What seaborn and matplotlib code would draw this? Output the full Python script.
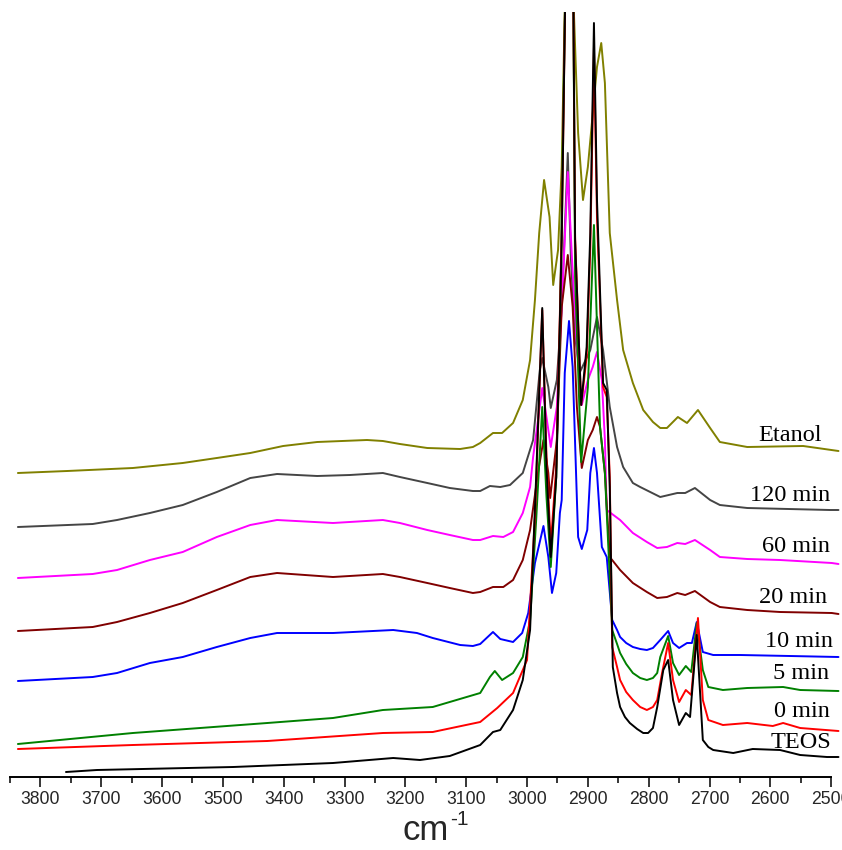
import numpy as np
import pandas as pd
import seaborn as sns
import matplotlib
matplotlib.use("Agg")
import matplotlib.pyplot as plt

# ---- FTIR spectra (wavenumber in cm-1, absorbance in a.u., offset for stacking) ----
teos_wn = [3758, 3707, 3483, 3319, 3220, 3176, 3127, 3077, 3056, 3044, 3023, 3007, 2995, 2985,
           2975, 2968, 2961, 2952, 2943, 2937, 2931, 2924, 2921, 2911, 2902, 2896, 2890, 2885,
           2875, 2869, 2864, 2859, 2852, 2847, 2839, 2831, 2819, 2809, 2801, 2793, 2786, 2776,
           2768, 2760, 2750, 2739, 2732, 2721, 2711, 2702, 2694, 2661, 2629, 2584, 2551, 2507,
           2488]
teos_ab = [0.05, 0.07, 0.10, 0.14, 0.19, 0.17, 0.21, 0.32, 0.45, 0.47, 0.67, 0.97, 1.47, 3.00,
           4.69, 3.10, 2.20, 3.00, 5.37, 7.90, 9.20, 7.90, 5.37, 3.72, 4.30, 5.44, 7.54, 5.77,
           3.94, 3.87, 2.90, 1.10, 0.84, 0.70, 0.60, 0.54, 0.48, 0.44, 0.44, 0.49, 0.70, 1.07,
           1.17, 0.77, 0.52, 0.64, 0.60, 1.42, 0.37, 0.30, 0.27, 0.24, 0.28, 0.27, 0.22, 0.20,
           0.20]

min0_wn = [3837, 3648, 3427, 3237, 3155, 3077, 3049, 3023, 3000, 2987, 2975, 2968, 2961, 2952,
           2943, 2937, 2931, 2924, 2921, 2911, 2902, 2896, 2890, 2885, 2875, 2869, 2864, 2860,
           2852, 2847, 2837, 2826, 2814, 2803, 2793, 2786, 2778, 2768, 2760, 2750, 2739, 2730,
           2719, 2711, 2702, 2678, 2638, 2596, 2579, 2551, 2488]
min0_ab = [0.28, 0.32, 0.36, 0.44, 0.45, 0.55, 0.69, 0.84, 1.17, 2.60, 4.67, 3.20, 2.32, 3.10,
           5.40, 7.90, 9.00, 7.90, 5.40, 3.72, 4.20, 5.30, 7.29, 5.60, 3.90, 3.80, 3.00, 1.30,
           1.10, 0.97, 0.85, 0.77, 0.70, 0.67, 0.70, 0.77, 1.04, 1.34, 0.97, 0.75, 0.87, 0.82,
           1.59, 0.77, 0.57, 0.52, 0.54, 0.51, 0.54, 0.49, 0.46]

min5_wn = [3837, 3648, 3427, 3319, 3237, 3155, 3077, 3061, 3053, 3041, 3023, 3007, 2995, 2985,
           2975, 2968, 2961, 2952, 2946, 2937, 2931, 2924, 2921, 2911, 2900, 2890, 2880, 2872,
           2860, 2852, 2847, 2837, 2826, 2814, 2803, 2793, 2786, 2781, 2768, 2760, 2750, 2739,
           2730, 2721, 2711, 2702, 2678, 2638, 2579, 2551, 2488]
min5_ab = [0.33, 0.44, 0.54, 0.59, 0.67, 0.70, 0.84, 1.00, 1.06, 0.97, 1.04, 1.20, 1.57, 2.57,
           3.70, 2.80, 2.10, 3.00, 4.50, 7.90, 9.00, 7.90, 5.00, 3.15, 3.90, 5.52, 3.50, 3.04,
           1.47, 1.33, 1.24, 1.13, 1.04, 0.99, 0.97, 0.99, 1.04, 1.20, 1.41, 1.14, 1.02, 1.11,
           1.05, 1.54, 1.07, 0.90, 0.87, 0.89, 0.90, 0.87, 0.86]

min10_wn = [3837, 3714, 3674, 3620, 3566, 3510, 3455, 3411, 3319, 3220, 3181, 3155, 3110, 3089,
            3077, 3056, 3044, 3023, 3008, 2998, 2987, 2973, 2965, 2959, 2952, 2946, 2943, 2938,
            2931, 2925, 2918, 2916, 2910, 2901, 2896, 2890, 2885, 2877, 2869, 2860, 2852, 2847,
            2837, 2826, 2814, 2803, 2793, 2781, 2768, 2760, 2750, 2737, 2729, 2721, 2711, 2694,
            2650, 2568, 2488]
min10_ab = [0.96, 1.00, 1.04, 1.14, 1.20, 1.30, 1.39, 1.44, 1.44, 1.47, 1.44, 1.39, 1.32, 1.31,
            1.33, 1.45, 1.38, 1.35, 1.44, 1.64, 2.14, 2.51, 2.20, 1.84, 2.04, 2.64, 2.77, 4.04,
            4.56, 4.10, 2.77, 2.40, 2.28, 2.47, 3.04, 3.29, 3.04, 2.30, 2.20, 1.57, 1.47, 1.40,
            1.34, 1.30, 1.28, 1.27, 1.29, 1.37, 1.46, 1.34, 1.29, 1.34, 1.34, 1.55, 1.25, 1.22,
            1.22, 1.21, 1.20]

min20_wn = [3837, 3714, 3674, 3620, 3566, 3510, 3455, 3411, 3319, 3237, 3209, 3164, 3127, 3089,
            3077, 3056, 3039, 3023, 3007, 2995, 2982, 2973, 2965, 2962, 2951, 2943, 2933, 2925,
            2918, 2910, 2900, 2892, 2885, 2880, 2872, 2864, 2847, 2826, 2803, 2786, 2770, 2753,
            2740, 2724, 2699, 2683, 2638, 2584, 2499, 2488]
min20_ab = [1.46, 1.50, 1.55, 1.64, 1.74, 1.87, 2.00, 2.04, 2.00, 2.03, 2.00, 1.94, 1.89, 1.84,
            1.85, 1.90, 1.90, 1.97, 2.17, 2.47, 3.04, 3.37, 3.04, 2.79, 3.37, 4.70, 5.22, 4.70,
            3.70, 3.09, 3.37, 3.47, 3.60, 3.50, 3.04, 2.20, 2.07, 1.94, 1.85, 1.79, 1.80, 1.84,
            1.82, 1.86, 1.75, 1.70, 1.67, 1.65, 1.64, 1.63]

min60_wn = [3837, 3714, 3674, 3620, 3566, 3510, 3455, 3411, 3319, 3237, 3209, 3164, 3127, 3089,
            3077, 3056, 3039, 3023, 3007, 2995, 2990, 2975, 2965, 2961, 2951, 2943, 2933, 2926,
            2918, 2910, 2900, 2892, 2885, 2877, 2872, 2869, 2847, 2826, 2803, 2786, 2770, 2753,
            2740, 2724, 2699, 2683, 2638, 2584, 2499, 2488]
min60_ab = [1.99, 2.03, 2.07, 2.17, 2.25, 2.40, 2.52, 2.57, 2.54, 2.57, 2.54, 2.47, 2.42, 2.37,
            2.37, 2.41, 2.40, 2.45, 2.64, 2.90, 3.20, 3.89, 3.47, 3.30, 3.70, 4.70, 6.05, 5.17,
            4.30, 3.72, 3.97, 4.10, 4.25, 3.97, 3.37, 2.67, 2.57, 2.44, 2.35, 2.29, 2.30, 2.34,
            2.33, 2.37, 2.27, 2.20, 2.18, 2.17, 2.14, 2.13]

min120_wn = [3837, 3714, 3674, 3620, 3566, 3510, 3455, 3411, 3345, 3291, 3237, 3209, 3164, 3127,
             3089, 3077, 3061, 3044, 3028, 3007, 2990, 2979, 2975, 2965, 2961, 2951, 2943, 2936,
             2933, 2928, 2921, 2913, 2896, 2885, 2875, 2864, 2852, 2842, 2826, 2814, 2781, 2753,
             2740, 2724, 2699, 2683, 2638, 2502, 2488]
min120_ab = [2.50, 2.53, 2.57, 2.64, 2.72, 2.85, 2.99, 3.03, 3.01, 3.02, 3.04, 3.00, 2.94, 2.89,
             2.86, 2.86, 2.91, 2.90, 2.92, 3.04, 3.37, 4.07, 4.19, 3.90, 3.69, 3.97, 4.70, 5.77,
             6.24, 5.20, 4.40, 4.05, 4.27, 4.60, 4.27, 3.70, 3.30, 3.10, 2.94, 2.90, 2.80, 2.84,
             2.84, 2.89, 2.77, 2.72, 2.69, 2.67, 2.67]

etanol_wn = [3837, 3756, 3648, 3566, 3510, 3455, 3401, 3345, 3263, 3237, 3209, 3164, 3110, 3089,
             3077, 3056, 3041, 3023, 3007, 2995, 2987, 2980, 2972, 2963, 2957, 2949, 2943, 2937,
             2931, 2925, 2916, 2908, 2900, 2885, 2878, 2872, 2864, 2852, 2842, 2826, 2809, 2793,
             2781, 2770, 2752, 2737, 2719, 2699, 2683, 2638, 2546, 2488]
etanol_ab = [3.04, 3.06, 3.09, 3.14, 3.19, 3.24, 3.31, 3.35, 3.37, 3.36, 3.33, 3.29, 3.28, 3.30,
             3.34, 3.44, 3.44, 3.54, 3.77, 4.17, 4.77, 5.44, 5.97, 5.60, 4.92, 5.27, 6.10, 8.00,
             9.00, 8.00, 6.44, 5.77, 6.10, 7.10, 7.34, 6.94, 5.44, 4.77, 4.27, 3.94, 3.67, 3.55,
             3.49, 3.49, 3.60, 3.54, 3.67, 3.49, 3.35, 3.30, 3.31, 3.26]

series_names = ["Etanol", "120 min", "60 min", "20 min", "10 min", "5 min", "0 min", "TEOS"]
series_wn = [etanol_wn, min120_wn, min60_wn, min20_wn, min10_wn, min5_wn, min0_wn, teos_wn]
series_ab = [etanol_ab, min120_ab, min60_ab, min20_ab, min10_ab, min5_ab, min0_ab, teos_ab]
series_colors = ["#808000", "#454545", "#ff00ff", "#800000", "#0000ff", "#008000", "#ff0000", "#000000"]

# label anchors (right end x in cm-1, baseline in a.u.)
label_x = [2516, 2502, 2502, 2507, 2497, 2504, 2502, 2499]
label_y = [3.36, 2.76, 2.25, 1.74, 1.30, 0.98, 0.60, 0.29]

x_ticks = list(range(3800, 2400, -100))
x_minor = list(range(3850, 2500, -100))

sns.set_style("white")
plt.rcParams["font.family"] = ["Liberation Sans", "DejaVu Sans"]

fig = plt.figure(figsize=(8.42, 8.50), dpi=100)
ax = fig.add_axes([10 / 842, 73 / 850, 830.3 / 842, 765 / 850])

frames = []
for name, wn, ab in zip(series_names, series_wn, series_ab):
    frames.append(pd.DataFrame({"wn": wn, "ab": ab, "sample": name}))
data = pd.concat(frames, ignore_index=True)

for name, color in zip(series_names, series_colors):
    sub = data[data["sample"] == name]
    sns.lineplot(data=sub, x="wn", y="ab", color=color, lw=1.4, ax=ax,
                 estimator=None, sort=True, legend=False)

for name, lx, ly in zip(series_names, label_x, label_y):
    ax.text(lx, ly, name, ha="right", va="baseline", fontsize=17.5,
            family="Liberation Serif", color="black")

ax.set_xlim(3850, 2485)
ax.set_ylim(0, 7.65)

for side in ["left", "top", "right"]:
    ax.spines[side].set_visible(False)
ax.spines["bottom"].set_bounds(2500, 3850)
ax.spines["bottom"].set_linewidth(1.4)
ax.spines["bottom"].set_color("black")

ax.set_yticks([])
ax.set_xticks(x_ticks)
ax.set_xticklabels([str(t) for t in x_ticks])
ax.set_xticks(x_minor, minor=True)
ax.tick_params(axis="x", which="major", direction="out", length=7.2, width=1.1,
               pad=3.2, labelsize=12.7, color="black", bottom=True)
ax.tick_params(axis="x", which="minor", direction="out", length=4.3, width=1.1,
               color="black", bottom=True)

# axis title: "cm" with a small raised "-1"
ax.set_xlabel("cm", fontsize=25, labelpad=4)
ax.set_ylabel("")
ax.annotate("-1", xy=(1.0, 0.55), xycoords=ax.xaxis.label, xytext=(1, 0),
            textcoords="offset points", fontsize=15, ha="left", va="bottom")

fig.savefig("out.png", dpi=100)
